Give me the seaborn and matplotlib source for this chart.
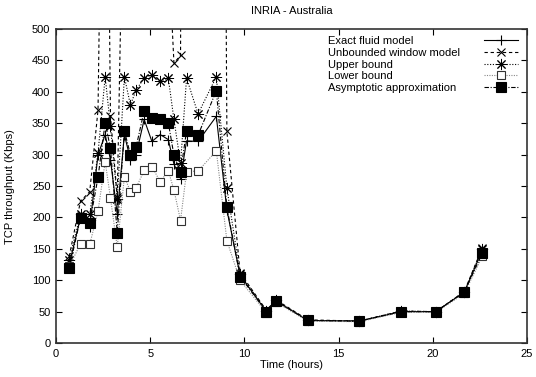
import numpy as np
import seaborn as sns
import matplotlib
matplotlib.use('Agg')
import matplotlib.pyplot as plt

# time of day (hours) for each measurement
hours = [0.70, 1.30, 1.79, 2.23, 2.61, 2.89, 3.25, 3.63, 3.95, 4.25,
         4.68, 5.09, 5.53, 5.96, 6.26, 6.61, 6.93, 7.54, 8.51, 9.07,
         9.77, 11.17, 11.67, 13.37, 16.09, 18.33, 20.16, 21.67, 22.63]

exact = [125, 200, 185, 300, 332, 292, 205, 332, 292, 300,
         356, 321, 332, 324, 285, 262, 322, 321, 361, 212,
         108, 50, 67, 36, 35, 50, 50, 81, 148]
# unbounded model leaves the plot (>500) at several points
unbounded = [138, 226, 241, 371, 1200, 362, 232, 830, 1200, 1200,
             1200, 1200, 1200, 630, 446, 458, 3000, 3000, 3000, 337,
             112, 52, 69, 37, 35, 51, 50, 82, 152]
upper = [133, 205, 205, 303, 424, 345, 230, 424, 379, 403,
         422, 427, 417, 422, 356, 286, 422, 365, 424, 247,
         110, 51, 68, 36, 35, 51, 50, 82, 150]
lower = [122, 158, 157, 210, 289, 231, 153, 265, 241, 247,
         275, 281, 257, 274, 244, 195, 273, 274, 306, 163,
         100, 48, 65, 35, 34, 49, 49, 79, 138]
asympt = [119, 199, 191, 264, 351, 310, 176, 338, 300, 312,
          370, 358, 356, 351, 299, 272, 338, 331, 402, 216,
          106, 50, 67, 36, 35, 50, 50, 81, 143]

plt.rcParams['font.family'] = 'Liberation Sans'
plt.rcParams['font.size'] = 8

fig = plt.figure(figsize=(5.36, 3.77), dpi=100)
ax = fig.add_axes([0.1045, 0.090, 0.8787, 0.8329])

lw = 0.8
sns.lineplot(x=hours, y=exact, ax=ax, color='black', linestyle='-', lw=lw,
             marker='+', markersize=7, mew=0.8, mec='black',
             label='Exact fluid model')
sns.lineplot(x=hours, y=unbounded, ax=ax, color='black', linestyle=(0, (3, 2.5)), lw=lw,
             marker='x', markersize=6, mew=0.8, mec='black',
             label='Unbounded window model')
sns.lineplot(x=hours, y=upper, ax=ax, color='black', linestyle=(0, (1, 1.5)), lw=lw,
             marker=(8, 2, 0), markersize=8, mew=0.7, mec='black',
             label='Upper bound')
sns.lineplot(x=hours, y=lower, ax=ax, color='#888888', linestyle=(0, (1, 1.2)), lw=lw,
             marker='s', markersize=6, mew=0.8, mec='#333333', mfc='white',
             label='Lower bound')
sns.lineplot(x=hours, y=asympt, ax=ax, color='black', linestyle=(0, (4, 1.5, 1, 1.5)), lw=lw,
             marker='s', markersize=6.5, mew=0.8, mec='black', mfc='black',
             label='Asymptotic approximation')

ax.set_xlim(0, 25)
ax.set_ylim(0, 500)
ax.set_xticks(np.arange(0, 26, 5))
ax.set_yticks(np.arange(0, 501, 50))
ax.tick_params(direction='in', top=True, right=True, length=4, width=0.8, pad=4)
for s in ax.spines.values():
    s.set_linewidth(1.2)
    s.set_color('#333333')

ax.set_xlabel('Time (hours)', labelpad=1)
ax.set_ylabel('TCP throughput (Kbps)', labelpad=12)
ax.set_title('INRIA - Australia', fontsize=8, pad=11)

leg = ax.legend(loc='upper right', bbox_to_anchor=(0.981, 0.978), frameon=False,
                markerfirst=False, handlelength=3.1, labelspacing=0.16,
                borderpad=0, borderaxespad=0, fontsize=8)

# gnuplot style key: labels left aligned, samples lined up on the right
fig.canvas.draw()
r = fig.canvas.get_renderer()
col = leg._legend_handle_box.get_children()[0]
col.align = 'left'
widths = [t.get_window_extent(r).width for t in leg.get_texts()]
gap = 156
for item, w in zip(col.get_children(), widths):
    item.sep = (gap - w) / (fig.dpi / 72)

fig.savefig('out.png', dpi=100)
